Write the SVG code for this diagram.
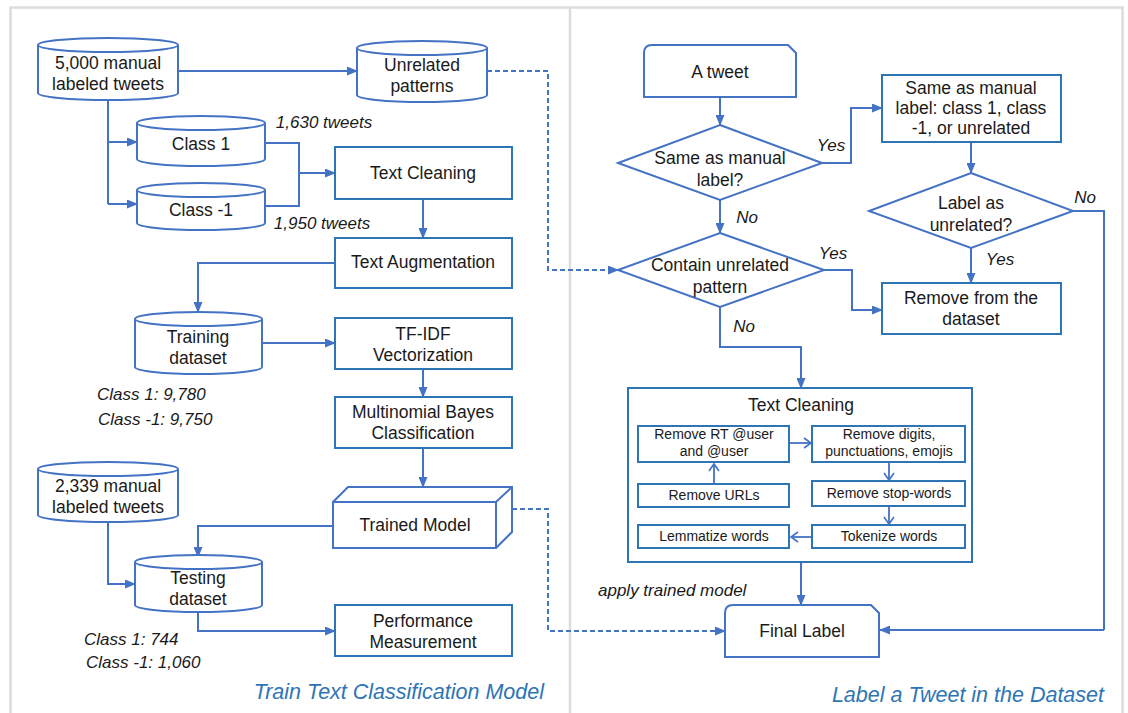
<svg xmlns="http://www.w3.org/2000/svg" width="1128" height="713" viewBox="0 0 1128 713">
<defs>
<marker id="ah" markerUnits="userSpaceOnUse" markerWidth="11" markerHeight="9" refX="10" refY="4.5" orient="auto"><path d="M0,0 L11,4.5 L0,9 z" fill="#4472c4"/></marker>
<marker id="oh" markerUnits="userSpaceOnUse" markerWidth="10" markerHeight="12" refX="8" refY="6" orient="auto"><path d="M1,1 L8,6 L1,11" fill="none" stroke="#4472c4" stroke-width="1.6"/></marker>
<style>
.ln{fill:none;stroke:#4472c4;stroke-width:2}
.ar{fill:none;stroke:#4472c4;stroke-width:2;marker-end:url(#ah)}
.da{fill:none;stroke:#4472c4;stroke-width:2;stroke-dasharray:5,3;marker-end:url(#ah)}
.oa{fill:none;stroke:#4472c4;stroke-width:1.8;marker-end:url(#oh)}
.sh{fill:#fff;stroke:#4472c4;stroke-width:2}
.bx{fill:#fff;stroke:#2e75b6;stroke-width:2}
.cn{fill:none;stroke:#2e75b6;stroke-width:2}
.t{font-family:"Liberation Sans",Arial,sans-serif;font-size:17.5px;fill:#1a1a1a;text-anchor:middle}
.s{font-family:"Liberation Sans",Arial,sans-serif;font-size:14px;fill:#1a1a1a;text-anchor:middle}
.i{font-family:"Liberation Sans",Arial,sans-serif;font-size:17px;font-style:italic;fill:#1a1a1a}
.h{font-family:"Liberation Sans",Arial,sans-serif;font-size:21.5px;font-style:italic;fill:#2e75b6;text-anchor:end}
</style>
</defs>
<rect x="0" y="0" width="1128" height="713" fill="#fff"/>
<rect x="10.5" y="7.5" width="1112" height="730" fill="none" stroke="#dcdcdc" stroke-width="2.5"/>
<line x1="570" y1="7" x2="570" y2="713" stroke="#dcdcdc" stroke-width="2.5"/>

<g id="connectors">
<path class="ar" d="M178,71 H357"/>
<path class="da" d="M487,71 H548 V270 H618"/>
<path class="ln" d="M108,100 V204"/>
<path class="ar" d="M108,142 H137"/>
<path class="ar" d="M108,204 H137"/>
<path class="ln" d="M265,143 H299 V206 H265"/>
<path class="ar" d="M299,173 H335"/>
<path class="ar" d="M423,199 V238"/>
<path class="ar" d="M335,263 H198 V312"/>
<path class="ar" d="M262,343 H335"/>
<path class="ar" d="M423,369 V397"/>
<path class="ar" d="M423,448 V487"/>
<path class="ar" d="M333,526 H198 V557"/>
<path class="ar" d="M108,522 V584 H135"/>
<path class="ar" d="M198,612 V631 H335"/>
<path class="da" d="M512,509 H548 V631 H725"/>
<path class="ar" d="M720,97 V125"/>
<path class="ar" d="M822,163 H851 V108 H882"/>
<path class="ar" d="M971,142 V173"/>
<path class="ln" d="M1073,211 H1104 V630"/>
<path class="ar" d="M1104,630 H880"/>
<path class="ar" d="M720,200 V233"/>
<path class="ar" d="M824,270 H852 V310 H882"/>
<path class="ar" d="M971,248 V283"/>
<path class="ar" d="M720,307 V347 H801 V388"/>
<path class="ar" d="M801,562 V605"/>
<path class="oa" d="M789,443 H811"/>
<path class="oa" d="M714,484 V464"/>
<path class="oa" d="M889,462 V480"/>
<path class="oa" d="M889,507 V524"/>
<path class="oa" d="M812,537 H791"/>
</g>

<g id="n-manual5000">
<path class="sh" d="M38,45 A70,7 0 0 1 178,45 V93 A70,7 0 0 1 38,93 Z M38,45 A70,7 0 0 0 178,45"/>
<text class="t" x="108" y="69">5,000 manual</text>
<text class="t" x="108" y="90">labeled tweets</text>
</g>
<g id="n-unrelated">
<path class="sh" d="M357,48 A65,7 0 0 1 487,48 V95 A65,7 0 0 1 357,95 Z M357,48 A65,7 0 0 0 487,48"/>
<text class="t" x="422" y="71">Unrelated</text>
<text class="t" x="422" y="92">patterns</text>
</g>
<g id="n-class1">
<path class="sh" d="M137,123 A64,7 0 0 1 265,123 V159 A64,7 0 0 1 137,159 Z M137,123 A64,7 0 0 0 265,123"/>
<text class="t" x="201" y="150">Class 1</text>
</g>
<g id="n-classm1">
<path class="sh" d="M137,190 A64,7 0 0 1 265,190 V223 A64,7 0 0 1 137,223 Z M137,190 A64,7 0 0 0 265,190"/>
<text class="t" x="201" y="216">Class -1</text>
</g>
<text class="i" x="324" y="128" text-anchor="middle">1,630 tweets</text>
<text class="i" x="322" y="229" text-anchor="middle">1,950 tweets</text>
<g id="n-textclean-l">
<rect class="bx" x="335" y="147" width="177" height="52"/>
<text class="t" x="423" y="179">Text Cleaning</text>
</g>
<g id="n-augment">
<rect class="bx" x="335" y="238" width="177" height="50"/>
<text class="t" x="423" y="268">Text Augmentation</text>
</g>
<g id="n-training">
<path class="sh" d="M135,319 A63.5,7 0 0 1 262,319 V367 A63.5,7 0 0 1 135,367 Z M135,319 A63.5,7 0 0 0 262,319"/>
<text class="t" x="198" y="343">Training</text>
<text class="t" x="198" y="364">dataset</text>
</g>
<text class="i" x="97" y="400">Class 1: 9,780</text>
<text class="i" x="98" y="425">Class -1: 9,750</text>
<g id="n-tfidf">
<rect class="bx" x="335" y="318" width="177" height="51"/>
<text class="t" x="423" y="340">TF-IDF</text>
<text class="t" x="423" y="361">Vectorization</text>
</g>
<g id="n-bayes">
<rect class="bx" x="335" y="397" width="177" height="51"/>
<text class="t" x="423" y="418">Multinomial Bayes</text>
<text class="t" x="423" y="439">Classification</text>
</g>
<g id="n-manual2339">
<path class="sh" d="M38,469 A70,7 0 0 1 178,469 V515 A70,7 0 0 1 38,515 Z M38,469 A70,7 0 0 0 178,469"/>
<text class="t" x="108" y="492">2,339 manual</text>
<text class="t" x="108" y="513">labeled tweets</text>
</g>
<g id="n-trained">
<path class="sh" d="M333,502 L348,487 H512 V532 L496,548 H333 Z"/>
<path class="ln" d="M333,502 H496 L512,487 M496,502 V548"/>
<text class="t" x="415" y="531">Trained Model</text>
</g>
<g id="n-testing">
<path class="sh" d="M135,562 A63.5,7 0 0 1 262,562 V605 A63.5,7 0 0 1 135,605 Z M135,562 A63.5,7 0 0 0 262,562"/>
<text class="t" x="198" y="584">Testing</text>
<text class="t" x="198" y="605">dataset</text>
</g>
<g id="n-perf">
<rect class="bx" x="335" y="605" width="177" height="51"/>
<text class="t" x="423" y="627">Performance</text>
<text class="t" x="423" y="648">Measurement</text>
</g>
<text class="i" x="84" y="645">Class 1: 744</text>
<text class="i" x="86" y="668">Class -1: 1,060</text>
<text class="h" x="544" y="699">Train Text Classification Model</text>

<g id="n-tweet">
<path class="sh" d="M644,97 V53 Q644,45 652,45 H788 L796,53 V97 Z"/>
<text class="t" x="720" y="78">A tweet</text>
</g>
<g id="n-same">
<path class="sh" d="M720,125 L822,163 L720,200 L618,163 Z"/>
<text class="t" x="720" y="164">Same as manual</text>
<text class="t" x="720" y="186">label?</text>
</g>
<text class="i" x="831" y="151" text-anchor="middle">Yes</text>
<g id="n-samebox">
<rect class="bx" x="882" y="75" width="179" height="67"/>
<text class="t" x="971" y="94">Same as manual</text>
<text class="t" x="971" y="114">label: class 1, class</text>
<text class="t" x="971" y="134">-1, or unrelated</text>
</g>
<g id="n-labelunrel">
<path class="sh" d="M971,173 L1073,211 L971,248 L869,211 Z"/>
<text class="t" x="971" y="209">Label as</text>
<text class="t" x="971" y="231">unrelated?</text>
</g>
<text class="i" x="1085" y="203" text-anchor="middle">No</text>
<text class="i" x="747" y="223" text-anchor="middle">No</text>
<g id="n-contain">
<path class="sh" d="M720,233 L824,270 L720,307 L618,270 Z"/>
<text class="t" x="720" y="271">Contain unrelated</text>
<text class="t" x="720" y="293">pattern</text>
</g>
<text class="i" x="833" y="259" text-anchor="middle">Yes</text>
<text class="i" x="1000" y="265" text-anchor="middle">Yes</text>
<g id="n-remove">
<rect class="bx" x="882" y="283" width="179" height="51"/>
<text class="t" x="971" y="304">Remove from the</text>
<text class="t" x="971" y="325">dataset</text>
</g>
<text class="i" x="744" y="332" text-anchor="middle">No</text>
<g id="n-textclean-r">
<rect class="cn" x="628" y="388" width="344" height="174"/>
<text class="t" x="801" y="411">Text Cleaning</text>
</g>
<g id="n-rt">
<rect class="bx" x="638" y="426" width="151" height="36"/>
<text class="s" x="714" y="439">Remove RT @user</text>
<text class="s" x="714" y="456">and @user</text>
</g>
<g id="n-digits">
<rect class="bx" x="812" y="426" width="153" height="36"/>
<text class="s" x="889" y="439">Remove digits,</text>
<text class="s" x="889" y="456">punctuations, emojis</text>
</g>
<g id="n-urls">
<rect class="bx" x="638" y="484" width="151" height="23"/>
<text class="s" x="714" y="500">Remove URLs</text>
</g>
<g id="n-stop">
<rect class="bx" x="812" y="481" width="153" height="25"/>
<text class="s" x="889" y="498">Remove stop-words</text>
</g>
<g id="n-lemma">
<rect class="bx" x="638" y="525" width="151" height="23"/>
<text class="s" x="714" y="541">Lemmatize words</text>
</g>
<g id="n-token">
<rect class="bx" x="812" y="525" width="153" height="23"/>
<text class="s" x="889" y="541">Tokenize words</text>
</g>
<text class="i" x="598" y="596">apply trained model</text>
<g id="n-final">
<path class="sh" d="M725,657 V613 Q725,605 733,605 H871 L879,613 V657 Z"/>
<text class="t" x="802" y="637">Final Label</text>
</g>
<text class="h" x="1104" y="702">Label a Tweet in the Dataset</text>
</svg>
